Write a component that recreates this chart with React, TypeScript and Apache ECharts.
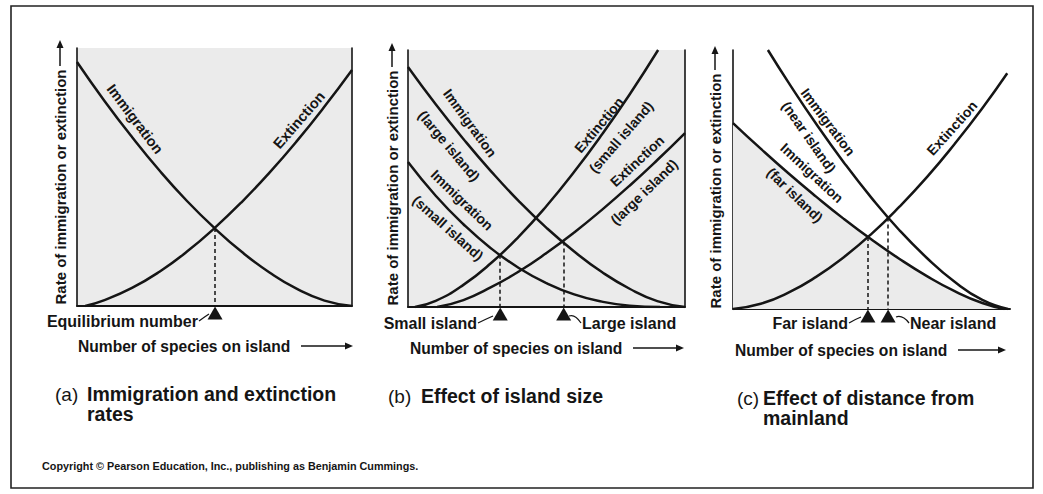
import React, { useEffect, useRef } from "react";
import * as echarts from "echarts";

// ---------- data (x = number of species, y = rate, both 0..100) ----------
const A_X = [0, 10, 20, 30, 40, 50, 60, 70, 80, 90, 100];
const A_IMMIGRATION = [94.6, 79.5, 65.5, 52.5, 40.7, 30.2, 20.9, 13.0, 6.6, 2.1, 0];
const A_EXT_X = [3, 10, 20, 30, 40, 50, 60, 70, 80, 90, 100];
const A_EXTINCTION = [0, 2.3, 7.0, 13.3, 21.1, 30.2, 40.4, 51.7, 64.0, 77.3, 91.5];
const A_EQUILIBRIUM = [50.2, 30.2];

const B_IMM_LARGE_X = [0, 10, 20, 30, 40, 50, 60, 70, 80, 90, 100];
const B_IMM_LARGE = [93.4, 78.9, 65.4, 52.8, 41.2, 30.8, 21.6, 13.6, 7.1, 2.3, 0];
const B_IMM_SMALL_X = [0, 10, 20, 30, 40, 50, 60, 70, 80, 91];
const B_IMM_SMALL = [56.4, 43.3, 32.2, 22.8, 15.2, 9.3, 4.9, 2.1, 0.5, 0];
const B_EXT_SMALL_X = [2.5, 10, 20, 30, 40, 50, 60, 70, 80, 90.3];
const B_EXT_SMALL = [0, 2.4, 8.6, 17.1, 27.4, 39.3, 52.6, 67.1, 82.7, 100];
const B_EXT_LARGE_X = [10.5, 20, 30, 40, 50, 60, 70, 80, 90, 100];
const B_EXT_LARGE = [0, 2.7, 7.7, 13.8, 21.0, 29.0, 37.8, 47.2, 57.2, 67.7];
const B_EQ_SMALL = [33.3, 20.3];
const B_EQ_LARGE = [56.2, 25.5];

const C_IMM_NEAR_X = [12.6, 20, 30, 40, 50, 60, 70, 80, 90, 99.3];
const C_IMM_NEAR = [100, 87.5, 71.5, 56.6, 42.9, 30.5, 19.7, 10.5, 3.5, 0];
const C_IMM_FAR_X = [0, 10, 20, 30, 40, 50, 60, 70, 80, 90, 98];
const C_IMM_FAR = [71.8, 61.9, 52.4, 43.4, 34.8, 26.8, 19.4, 12.7, 6.9, 2.3, 0];
const C_EXT_X = [0, 10, 20, 30, 40, 50, 60, 70, 80, 90, 99];
const C_EXTINCTION = [0, 2.0, 6.3, 12.4, 20.0, 29.0, 39.4, 50.9, 63.7, 77.5, 91];
const C_EQ_FAR = [48.7, 27.8];
const C_EQ_NEAR = [56, 35.3];

const Y_TITLE = "Rate of immigration or extinction";
const X_TITLE = "Number of species on island";

// ---------- styling ----------
const INK = "#151515";
const SHADE = "#ebebeb";
const FONT = "'Liberation Sans', Arial, Helvetica, sans-serif";

const zip = (xs: number[], ys: number[]) => xs.map((x, i) => [x, ys[i]]);

function curve(grid: number, data: number[][], extra: any = {}) {
  return {
    type: "line",
    xAxisIndex: grid,
    yAxisIndex: grid,
    data,
    symbol: "none",
    showSymbol: false,
    smooth: 0.5,
    silent: true,
    lineStyle: { color: INK, width: 2.5 },
    z: 3,
    ...extra,
  };
}

function marks(eqs: number[][]) {
  return {
    markLine: {
      silent: true,
      symbol: ["none", "none"],
      label: { show: false },
      lineStyle: { color: INK, width: 1.5, type: [4, 3] },
      data: eqs.map((e) => [{ coord: [e[0], e[1]] }, { coord: [e[0], 0] }]),
    },
    markPoint: {
      silent: true,
      symbol: "triangle",
      symbolSize: [15, 13],
      symbolOffset: [0, 7],
      itemStyle: { color: INK },
      label: { show: false },
      data: eqs.map((e) => ({ coord: [e[0], 0] })),
    },
  };
}

function txt(text: string, x: number, y: number, o: any = {}) {
  return {
    type: "text",
    x,
    y,
    rotation: ((o.rot || 0) * Math.PI) / 180,
    silent: true,
    z: 10,
    style: {
      text,
      fill: INK,
      font: `${o.weight || "bold"} ${o.size || 14}px ${FONT}`,
      align: o.align || "center",
      verticalAlign: "middle",
    },
  };
}

function arrowH(x1: number, x2: number, y: number) {
  return [
    { type: "line", silent: true, shape: { x1, y1: y, x2: x2 - 6, y2: y }, style: { stroke: INK, lineWidth: 1.5 } },
    { type: "polygon", silent: true, shape: { points: [[x2, y], [x2 - 8, y - 3.5], [x2 - 8, y + 3.5]] }, style: { fill: INK } },
  ];
}

function arrowV(x: number, y1: number, y2: number) {
  return [
    { type: "line", silent: true, shape: { x1: x, y1, x2: x, y2: y2 + 6 }, style: { stroke: INK, lineWidth: 1.5 } },
    { type: "polygon", silent: true, shape: { points: [[x, y2], [x - 3.5, y2 + 8], [x + 3.5, y2 + 8]] }, style: { fill: INK } },
  ];
}

function tilde(x1: number, y1: number, x2: number, y2: number) {
  return {
    type: "bezierCurve",
    silent: true,
    shape: { x1, y1, x2, y2, cpx1: (x1 + x2) / 2, cpy1: y1 + (y2 - y1) * 0.1 - 3 },
    style: { stroke: INK, lineWidth: 1.3, fill: "none" },
  };
}

const GRIDS = [
  { left: 77, top: 48, width: 275, height: 258, shade: true },
  { left: 408, top: 50, width: 277, height: 257, shade: true },
  { left: 733, top: 50, width: 277, height: 259, shade: false },
];

export default function App() {
  const ref = useRef<HTMLDivElement>(null);

  useEffect(() => {
    document.body.style.margin = "0";
    document.body.style.background = "#fff";
    if (!ref.current) return;
    const chart = echarts.init(ref.current, undefined, { renderer: "svg" });

    const axisBase = {
      type: "value",
      min: 0,
      max: 100,
      axisTick: { show: false },
      axisLabel: { show: false },
      splitLine: { show: false },
    };

    const graphic: any[] = [
      {
        type: "rect",
        silent: true,
        z: 0,
        shape: { x: 11, y: 6, width: 1022, height: 482 },
        style: { fill: "none", stroke: "#222", lineWidth: 1.6 },
      },
      // y titles
      txt(Y_TITLE, 60, 187, { rot: 90, size: 15 }),
      ...arrowV(60, 66, 40),
      txt(Y_TITLE, 392, 188, { rot: 90, size: 15 }),
      ...arrowV(392, 67, 43),
      txt(Y_TITLE, 715, 191, { rot: 90, size: 15 }),
      ...arrowV(715, 70, 46),
      // (a) curve labels
      txt("Immigration", 135, 119, { rot: -53, size: 14.5 }),
      txt("Extinction", 299, 120, { rot: 49, size: 14.5 }),
      // (b) curve labels
      txt("Immigration", 470, 123, { rot: -54, size: 14 }),
      txt("(large island)", 449, 146, { rot: -50, size: 14 }),
      txt("Immigration", 462, 200, { rot: -44, size: 14 }),
      txt("(small island)", 448, 228, { rot: -42, size: 14 }),
      txt("Extinction", 599, 125, { rot: 50, size: 14 }),
      txt("(small island)", 621, 137, { rot: 49, size: 14 }),
      txt("Extinction", 637, 161, { rot: 43, size: 14 }),
      txt("(large island)", 644, 192, { rot: 44, size: 14 }),
      // (c) curve labels
      txt("Immigration", 828, 122, { rot: -53, size: 14 }),
      txt("(near island)", 809, 137, { rot: -55, size: 14 }),
      txt("Immigration", 812, 173, { rot: -43, size: 14 }),
      txt("(far island)", 795, 195, { rot: -44, size: 14 }),
      txt("Extinction", 952, 128, { rot: 48, size: 14 }),
      // bottom labels
      txt("Equilibrium number", 198, 321, { align: "right", size: 16 }),
      tilde(199, 321, 209, 314),
      txt("Small island", 477, 323, { align: "right", size: 16 }),
      tilde(478, 323, 493, 316),
      txt("Large island", 582, 323, { align: "left", size: 16 }),
      tilde(569, 316, 581, 323),
      txt("Far island", 848, 323, { align: "right", size: 16 }),
      tilde(849, 323, 861, 317),
      txt("Near island", 910, 323, { align: "left", size: 16 }),
      tilde(896, 317, 909, 323),
      // x titles
      txt(X_TITLE, 78, 346, { align: "left", size: 15.6 }),
      ...arrowH(301, 353, 346),
      txt(X_TITLE, 410, 348, { align: "left", size: 15.6 }),
      ...arrowH(633, 684, 348),
      txt(X_TITLE, 735, 350, { align: "left", size: 15.6 }),
      ...arrowH(958, 1006, 350),
      // panel titles
      txt("(a)", 55, 394, { align: "left", size: 19, weight: "normal" }),
      txt("Immigration and extinction", 87, 394, { align: "left", size: 19.5 }),
      txt("rates", 87, 414, { align: "left", size: 19.5 }),
      txt("(b)", 388, 396, { align: "left", size: 19, weight: "normal" }),
      txt("Effect of island size", 421, 396, { align: "left", size: 19.5 }),
      txt("(c)", 737, 398, { align: "left", size: 19, weight: "normal" }),
      txt("Effect of distance from", 763, 398, { align: "left", size: 19.5 }),
      txt("mainland", 763, 418, { align: "left", size: 19.5 }),
      // copyright
      txt("Copyright \u00A9 Pearson Education, Inc., publishing as Benjamin Cummings.", 42, 466, {
        align: "left",
        size: 10.8,
      }),
    ];

    chart.setOption({
      animation: false,
      backgroundColor: "#ffffff",
      grid: GRIDS.map((g) => ({
        left: g.left,
        top: g.top,
        width: g.width,
        height: g.height,
        show: g.shade,
        backgroundColor: g.shade ? SHADE : "transparent",
        borderWidth: 0,
        containLabel: false,
      })),
      xAxis: GRIDS.map((_, i) => ({
        ...axisBase,
        gridIndex: i,
        axisLine: { show: true, onZero: false, lineStyle: { color: INK, width: 2 } },
      })),
      yAxis: [
        ...GRIDS.map((_, i) => ({
          ...axisBase,
          gridIndex: i,
          position: "left",
          axisLine: { show: true, onZero: false, lineStyle: { color: INK, width: 1.6 } },
        })),
        { ...axisBase, gridIndex: 0, position: "right", axisLine: { show: true, onZero: false, lineStyle: { color: INK, width: 1.6 } } },
        { ...axisBase, gridIndex: 1, position: "right", axisLine: { show: true, onZero: false, lineStyle: { color: INK, width: 1.6 } } },
      ],
      series: [
        // (a)
        curve(0, zip(A_X, A_IMMIGRATION), marks([A_EQUILIBRIUM])),
        curve(0, zip(A_EXT_X, A_EXTINCTION)),
        // (b)
        curve(1, zip(B_IMM_LARGE_X, B_IMM_LARGE), marks([B_EQ_SMALL, B_EQ_LARGE])),
        curve(1, zip(B_IMM_SMALL_X, B_IMM_SMALL)),
        curve(1, zip(B_EXT_SMALL_X, B_EXT_SMALL)),
        curve(1, zip(B_EXT_LARGE_X, B_EXT_LARGE)),
        // (c)
        curve(2, zip(C_IMM_FAR_X, C_IMM_FAR), {
          areaStyle: { color: SHADE, opacity: 1 },
          z: 2,
        }),
        curve(2, zip(C_IMM_NEAR_X, C_IMM_NEAR), marks([C_EQ_FAR, C_EQ_NEAR])),
        curve(2, zip(C_EXT_X, C_EXTINCTION)),
      ],
      graphic,
    });

    return () => chart.dispose();
  }, []);

  return <div ref={ref} style={{ width: 1043, height: 494 }} />;
}
